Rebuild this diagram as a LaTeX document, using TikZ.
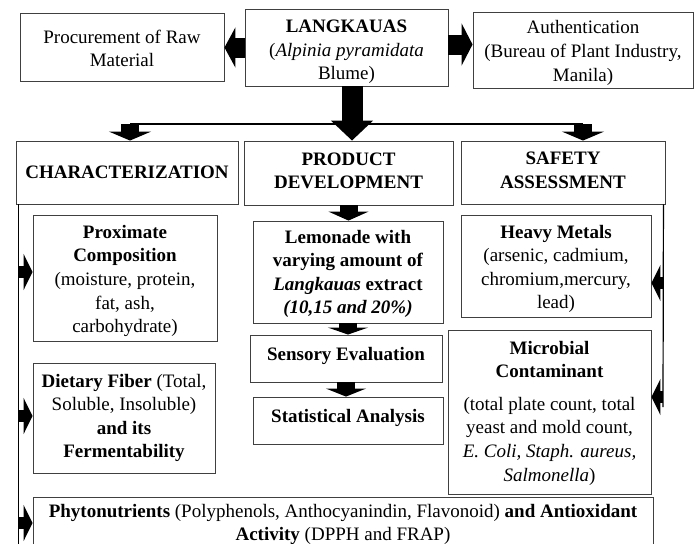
\documentclass[tikz,border=0pt]{standalone}
\usepackage{fontspec}
\setmainfont{Liberation Serif}
\usetikzlibrary{arrows.meta,shadows,calc}
\begin{document}
\begin{tikzpicture}[x=1pt,y=-1pt,
  box/.style={draw=black!75, line width=0.9pt, fill=white, align=center, inner sep=0pt,
    font=\fontsize{19}{23.6}\selectfont,
    drop shadow={shadow xshift=1.2pt,shadow yshift=-1.2pt,fill=black!40,opacity=0.6}},
  txt/.style={align=center, inner sep=0pt, font=\fontsize{19}{23.6}\selectfont},
  blk/.style args={#1/#2/#3}{draw=black, line width=#1, -{Triangle[length=#2,width=#3]}},
  sidearr/.style={draw=black, line width=12pt, -{Triangle[length=9pt,width=36pt]}},
  conn/.style={draw=black, line width=1.2pt}
  ]
\useasboundingbox (0,0) rectangle (697,544);
\clip (0,0) rectangle (697,544);
\fill[white] (0,0) rectangle (697,544);

% top row
\node[box, minimum width=204pt, minimum height=68pt] (proc) at (122,47) {};
\node[txt] (procT) at ($(proc.center)+(0,1.5)$) {Procurement of Raw\\Material};
\node[box, minimum width=203pt, minimum height=77pt] (lang) at (346.5,47.5) {};
\node[txt] (langT) at ($(lang.center)+(0,4.5)$) {\textbf{LANGKAUAS}\\(\textit{Alpinia pyramidata}\\Blume)};
\node[box, minimum width=220pt, minimum height=76pt] (auth) at (583,50) {};
\node[txt] (authT) at ($(auth.center)+(0,3)$) {Authentication\\(Bureau of Plant Industry,\\Manila)};

% second row
\node[box, minimum width=222pt, minimum height=63pt] (char) at (127,172.5) {\textbf{CHARACTERIZATION}};
\node[box, minimum width=209pt, minimum height=64pt] (prod) at (348.5,173) {};
\node[txt] (prodT) at ($(prod.center)+(0,-2)$) {\textbf{PRODUCT}\\\textbf{DEVELOPMENT}};
\node[box, minimum width=204pt, minimum height=63pt] (safe) at (563,172.5) {};
\node[txt] (safeT) at ($(safe.center)+(0,-2)$) {\textbf{SAFETY}\\\textbf{ASSESSMENT}};

% characterization column
\node[box, minimum width=184pt, minimum height=126pt] (prox) at (125,278) {};
\node[txt] (proxT) at ($(prox.center)+(0,3)$) {\textbf{Proximate}\\\textbf{Composition}\\(moisture, protein,\\fat, ash,\\carbohydrate)};
\node[box, minimum width=182pt, minimum height=110pt] (diet) at (124,418) {\textbf{Dietary Fiber} (Total,\\Soluble, Insoluble)\\\textbf{and its}\\\textbf{Fermentability}};
\node[box, minimum width=620pt, minimum height=55pt] (phyto) at (343,524.5) {\textbf{Phytonutrients} (Polyphenols, Anthocyanindin, Flavonoid) \textbf{and Antioxidant}\\\textbf{Activity} (DPPH and FRAP)};

% product column
\node[box, minimum width=190pt, minimum height=102pt] (lemon) at (348,272) {};
\node[txt] (lemonT) at ($(lemon.center)+(0,2)$) {\textbf{Lemonade with}\\\textbf{varying amount of}\\\textbf{\textit{Langkauas} extract}\\\textbf{\textit{(10,15 and 20\%)}}};
\node[box, minimum width=192pt, minimum height=47pt] (sens) at (346,358.5) {};
\node[txt] (sensT) at ($(sens.center)+(0,-3)$) {\textbf{Sensory Evaluation}};
\node[box, minimum width=190pt, minimum height=47pt] (stat) at (348,420.5) {};
\node[txt] (statT) at ($(stat.center)+(0,-3)$) {\textbf{Statistical Analysis}};

% safety column
\node[box, minimum width=190pt, minimum height=102pt] (heavy) at (556,266) {};
\node[txt] (heavyT) at ($(heavy.center)+(0,3)$) {\textbf{Heavy Metals}\\(arsenic, cadmium,\\chromium,mercury,\\lead)};
\node[box, minimum width=203pt, minimum height=164pt] (micro) at (549.5,412) {};
\node[txt] (microT) at ($(micro.center)+(0,1)$) {\textbf{Microbial}\\\textbf{Contaminant}\\[9pt](total plate count, total\\yeast and mold count,\\\textit{E. Coli, Staph. aureus,}\\\textit{Salmonella})};

% top arrows
\draw[blk=20pt/11pt/40pt] (lang.west) -- (proc.east |- lang.west);
\coordinate (re) at ($(lang.east)+(0,-3)$);
\draw[blk=20pt/11pt/42pt] (re) -- (re -| auth.west);

% distribution bar
\coordinate (hub) at (352,124);
\coordinate (barL) at (130,124);
\coordinate (barR) at (583,124);
\draw[conn] (barL) -- (barR);
\draw[blk=21pt/20pt/41pt] (lang.south -| hub) -- (prod.north -| hub);
\draw[blk=18pt/9pt/42pt] (barL) -- (char.north -| barL);
\draw[blk=18pt/9pt/42pt] (barR) -- (safe.north -| barR);

% product flow
\draw[blk=18pt/9pt/40pt] (prod.south) -- (lemon.north -| prod.south);
\draw[blk=18pt/7pt/40pt] (lemon.south) -- (sens.north -| lemon.south);
\draw[blk=18pt/8pt/40pt] (sens.south) -- (stat.north -| sens.south);

% left side line
\coordinate (L0) at ($(char.south west)+(3,0)$);
\coordinate (Lend) at (L0 |- phyto.south);
\draw[conn] (L0) -- (Lend);
\coordinate (pa) at (19,272);
\coordinate (da) at (19,416);
\coordinate (fa) at (19,523);
\draw[sidearr] (pa) -- (pa -| prox.west);
\draw[sidearr] (da) -- (da -| diet.west);
\draw[sidearr] (fa) -- (fa -| phyto.west);

% right side line
\coordinate (R0) at ($(safe.south east)+(-2,0)$);
\coordinate (Rend) at (663,407);
\draw[conn] (R0) -- (Rend);
\coordinate (ha) at (663,283);
\coordinate (ma) at (663,397);
\draw[sidearr] (ha) -- (ha -| heavy.east);
\draw[sidearr] (ma) -- (ma -| micro.east);
\end{tikzpicture}
\end{document}
